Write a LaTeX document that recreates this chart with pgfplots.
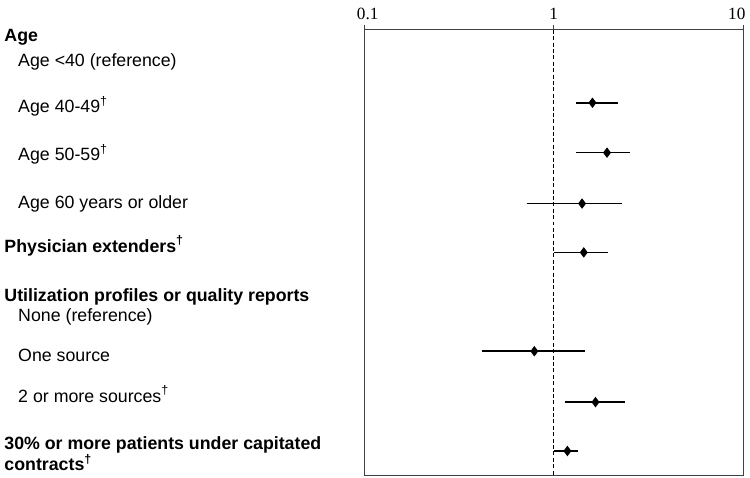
\documentclass[border=0pt]{standalone}
\usepackage{fontspec}
\setmainfont{Liberation Sans}
\newfontfamily\tickfont{Liberation Serif}
\usepackage{pgfplots}
\pgfplotsset{compat=1.18}

% odds ratios with 95% CI, row positions given as -pixel rows of the figure
\pgfplotstableread{
row   pt    lo    hi
-103  1.60  1.31  2.19
-153  1.91  1.31  2.52
-204  1.41  0.72  2.29
-253  1.44  1.00  1.94
-352  0.79  0.42  1.47
-403  1.66  1.14  2.37
-452  1.18  1.00  1.34
}\ortable

\newcommand{\lab}[3]{\node[anchor=base west,inner sep=0pt,font=\fontsize{8.9}{10}\selectfont] at (axis cs:#1,#2) {#3};}

\begin{document}
\begin{tikzpicture}
\begin{axis}[
  scale only axis,
  width=190pt, height=223.5pt,
  xmode=log,
  xmin=0.1, xmax=10,
  ymin=-477, ymax=-30,
  clip=false,
  xtick={0.1,1,10},
  xticklabels={{\kern3.5pt\makebox[0pt]{0.1}},1,{\kern1pt\makebox[0pt][r]{10}\kern-1pt}},
  xminorticks=false,
  xtick pos=upper,
  xticklabel pos=upper,
  tick align=outside,
  major tick length=2.5pt,
  ytick=\empty,
  axis line style={black!75,line width=0.5pt},
  tick style={black!75,line width=0.5pt},
  xticklabel style={font=\tickfont\fontsize{8.6}{10}\selectfont,yshift=-1pt},
  /pgf/number format/assume math mode=true,
]
\draw[draw=none] (rel axis cs:-0.9605,1.0671) rectangle (rel axis cs:1.0132,-0.0045);

\addplot[black,line width=0.6pt,dash pattern=on 2pt off 1.2pt] coordinates {(1,-30) (1,-477)};

\addplot[black,line width=0.75pt] coordinates {(1.31,-103) (2.19,-103)};
\addplot[black,line width=0.75pt] coordinates {(1.31,-153) (2.52,-153)};
\addplot[black,line width=0.75pt] coordinates {(0.72,-204) (2.29,-204)};
\addplot[black,line width=0.75pt] coordinates {(1.00,-253) (1.94,-253)};
\addplot[black,line width=0.75pt] coordinates {(0.42,-352) (1.47,-352)};
\addplot[black,line width=0.75pt] coordinates {(1.14,-403) (2.37,-403)};
\addplot[black,line width=0.75pt] coordinates {(1.00,-452) (1.34,-452)};

\addplot[only marks,mark=diamond*,mark size=2.3pt,black] table[x=pt,y=row] {\ortable};

\lab{0.00126}{-42}{\bfseries Age}
\lab{0.00149}{-67}{Age <40 (reference)}
\lab{0.00149}{-113}{Age 40-49\textsuperscript{\textdagger}}
\lab{0.00149}{-161}{Age 50-59\textsuperscript{\textdagger}}
\lab{0.00149}{-209}{Age 60 years or older}
\lab{0.00126}{-253}{\bfseries Physician extenders\textsuperscript{\textdagger}}
\lab{0.00126}{-302}{\bfseries Utilization profiles or quality reports}
\lab{0.00149}{-322}{None (reference)}
\lab{0.00149}{-362}{One source}
\lab{0.00149}{-403}{2 or more sources\textsuperscript{\textdagger}}
\lab{0.00126}{-450}{\bfseries 30\% or more patients under capitated}
\lab{0.00126}{-472}{\bfseries contracts\textsuperscript{\textdagger}}
\end{axis}
\end{tikzpicture}
\end{document}
